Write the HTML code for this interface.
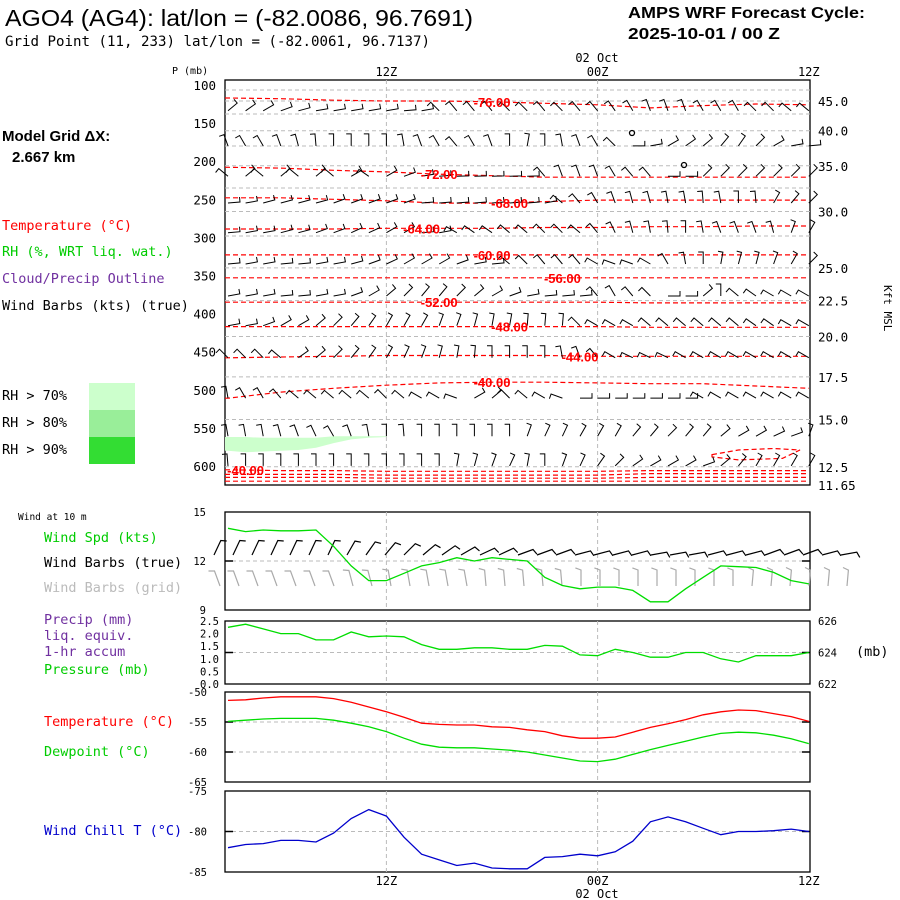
<!DOCTYPE html>
<html><head><meta charset="utf-8">
<style>
html,body{margin:0;padding:0;background:#fff;}
svg{display:block;}
text{font-family:"DejaVu Sans Mono","Liberation Mono",monospace;}
.t{font-family:"Liberation Sans",sans-serif;}
</style></head>
<body>
<svg id="chart" width="900" height="900" viewBox="0 0 900 900" xmlns="http://www.w3.org/2000/svg">
<rect x="0" y="0" width="900" height="900" fill="#fff"/>
<text class="t" x="5" y="26" font-size="23" textLength="468" lengthAdjust="spacingAndGlyphs">AGO4 (AG4):  lat/lon = (-82.0086, 96.7691)</text>
<text x="5" y="46" font-size="14" textLength="425" lengthAdjust="spacingAndGlyphs">Grid Point (11, 233) lat/lon = (-82.0061, 96.7137)</text>
<text class="t" x="628" y="18" font-size="16" font-weight="bold" textLength="237" lengthAdjust="spacingAndGlyphs">AMPS WRF Forecast Cycle:</text>
<text class="t" x="628" y="39" font-size="16" font-weight="bold" textLength="152" lengthAdjust="spacingAndGlyphs">2025-10-01 / 00  Z</text>

<text class="t" x="2" y="141" font-size="15" font-weight="bold">Model Grid ΔX:</text>
<text class="t" x="12" y="162" font-size="15" font-weight="bold">2.667 km</text>
<text x="2" y="230" font-size="13.5" fill="#ff0000">Temperature (°C)</text>
<text x="2" y="256" font-size="13.5" fill="#00cc00">RH (%, WRT liq. wat.)</text>
<text x="2" y="283" font-size="13.5" fill="#7030a0">Cloud/Precip Outline</text>
<text x="2" y="310" font-size="13.5" fill="#000">Wind Barbs (kts) (true)</text>
<rect x="89" y="383" width="46" height="27" fill="#ccffcc"/>
<rect x="89" y="410" width="46" height="27" fill="#99ee99"/>
<rect x="89" y="437" width="46" height="27" fill="#33dd33"/>
<text x="2" y="400" font-size="13.5">RH &gt; 70%</text>
<text x="2" y="427" font-size="13.5">RH &gt; 80%</text>
<text x="2" y="454" font-size="13.5">RH &gt; 90%</text>

<text x="18" y="520" font-size="9.5">Wind at 10 m</text>
<text x="44" y="542" font-size="13.5" fill="#00cc00">Wind Spd (kts)</text>
<text x="44" y="567" font-size="13.5" fill="#000">Wind Barbs (true)</text>
<text x="44" y="592" font-size="13.5" fill="#bbbbbb">Wind Barbs (grid)</text>
<text x="44" y="624" font-size="13.5" fill="#7030a0">Precip (mm)</text>
<text x="44" y="640" font-size="13.5" fill="#7030a0">liq. equiv.</text>
<text x="44" y="656" font-size="13.5" fill="#7030a0">1-hr accum</text>
<text x="44" y="674" font-size="13.5" fill="#00cc00">Pressure (mb)</text>
<text x="44" y="726" font-size="13.5" fill="#ff0000">Temperature (°C)</text>
<text x="44" y="756" font-size="13.5" fill="#00cc00">Dewpoint (°C)</text>
<text x="44" y="835" font-size="13.5" fill="#0000cc">Wind Chill T (°C)</text>

<text x="172" y="74" font-size="10">P (mb)</text>
<text x="597" y="62" font-size="12" text-anchor="middle">02 Oct</text>
<text x="597" y="898" font-size="12" text-anchor="middle">02 Oct</text>
<text x="856" y="656" font-size="13.5">(mb)</text>
<text x="884" y="285" font-size="11" transform="rotate(90 884 285)">Kft MSL</text>
<g id="g"></g>
</svg>
<script>
// ---- data ----
var hours = [0,1,2,3,4,5,6,7,8,9,10,11,12,13,14,15,16,17,18,19,20,21,22,23,24,25,26,27,28,29,30,31,32,33];
var timeTickLabels = ["12Z","00Z","12Z"];
var timeTickHours = [9,21,33];
var pressureTicks = [100,150,200,250,300,350,400,450,500,550,600];
var heightTickLabels = ["45.0","40.0","35.0","30.0","25.0","22.5","20.0","17.5","15.0","12.5","11.65"];
var heightTickPressure = [121,160,206,266,340,383,430,483,539,601,626];
var windSpd = [14.0,13.8,13.9,13.85,13.85,13.9,12.9,11.7,10.8,10.8,11.25,11.7,11.9,12.2,12.0,12.2,12.1,12.0,11.0,10.5,10.3,10.4,10.4,10.2,9.5,9.5,10.3,11.0,11.7,11.65,11.6,11.3,10.8,10.6];
var pressure = [625.6,625.8,625.5,625.2,625.2,624.8,624.8,625.3,625.0,625.05,625.0,624.5,624.2,624.2,624.3,624.3,624.2,624.2,624.45,624.4,623.85,623.8,624.2,624.0,623.7,623.7,624.0,624.0,623.6,623.4,623.8,623.8,623.8,624.0];
var precip = [0,0,0,0,0,0,0,0,0,0,0,0,0,0,0,0,0,0,0,0,0,0,0,0,0,0,0,0,0,0,0,0,0,0];
var temperature = [-51.4,-51.3,-51.0,-50.8,-50.8,-50.8,-51.1,-51.7,-52.5,-53.3,-54.2,-55.2,-55.4,-55.5,-55.5,-55.8,-55.9,-56.3,-56.6,-57.3,-57.7,-57.7,-57.5,-56.7,-55.9,-55.3,-54.6,-53.8,-53.3,-53.0,-53.1,-53.6,-54.1,-54.9];
var dewpoint = [-54.9,-54.7,-54.5,-54.4,-54.4,-54.4,-54.7,-55.2,-55.8,-56.6,-57.7,-58.7,-59.2,-59.3,-59.3,-59.5,-59.7,-60.0,-60.5,-61.0,-61.5,-61.6,-61.2,-60.4,-59.6,-58.9,-58.2,-57.5,-56.9,-56.7,-56.8,-57.2,-57.8,-58.6];
var windChill = [-82.0,-81.6,-81.5,-81.1,-81.1,-81.3,-80.2,-78.4,-77.3,-78.1,-80.7,-82.8,-83.5,-84.2,-83.9,-84.5,-84.6,-84.6,-83.2,-83.1,-82.8,-83.0,-82.5,-81.2,-78.8,-78.2,-78.8,-79.6,-80.4,-80.0,-80.0,-79.9,-79.7,-80.0];
var wind10Dir = [25,25,25,25,25,25,25,30,35,40,45,50,55,60,65,65,70,70,70,75,75,75,75,80,80,80,75,75,75,70,70,70,75,80];
var wind10GridDir = [-20,-20,-20,-20,-20,-20,-20,-15,-15,-10,-10,-10,-10,-10,-5,-5,-5,-5,-5,0,0,0,0,0,0,0,0,0,5,5,5,5,5,5];
// isotherms: pressure (mb) sampled every 3 h
var isoHours = [0,3,6,9,12,15,18,21,24,27,30,33];
var isoM76 = [117,118,120,121,121,122,124,126,130,127,125,126];
var isoM72 = [208,209,212,214,217,219,221,221,221,221,221,221];
var isoM68 = [248,248,250,252,255,255,253,251,251,251,251,251];
var isoM64 = [289,289,289,288,288,288,287,287,286,286,285,285];
var isoM60 = [323,323,323,323,323,323,323,323,323,323,323,323];
var isoM56 = [353,353,353,353,353,353,353,353,353,353,353,353];
var isoM52 = [385,385,385,385,385,385,385,385,386,386,386,386];
var isoM48 = [417,417,417,417,417,417,417,417,418,418,418,418];
var isoM44 = [458,457,456,455,455,455,455,456,456,456,456,456];
var isoM40a = [511,503,498,494,491,490,490,491,492,492,495,498];
var isoM40b = [605,606,606,607,607,607,607,607,606,606,606,606];
var isoM36 = [611,611,611,612,612,612,612,612,610,610,610,610];
var isoM32 = [615,615,615,616,616,616,616,616,615,615,615,615];
var isoM28 = [620,620,620,620,620,620,620,620,620,620,620,620];
var isotherms = [isoM76,isoM72,isoM68,isoM64,isoM60,isoM56,isoM52,isoM48,isoM44,isoM40a,isoM40b,isoM36,isoM32,isoM28];
var isoLabels = ["-76.00","-72.00","-68.00","-64.00","-60.00","-56.00","-52.00","-48.00","-44.00","-40.00","-40.00","","",""];
var isoLabelHour = [15,12,16,11,15,19,12,16,20,15,1,0,0,0];
// closed -40 contour (hours, pressure)
var loopHours = [27.5,29,31,32.5,31.5,29,27.5];
var loopPress = [585,579,577,579,590,592,588];
// RH>70% patch (hours, top/bottom pressure)
var rhHours = [0,1,2,3,4,5,6,7,8,9];
var rhTop = [562,562,563,563,563,563,561,561,561,561];
var rhBot = [580,582,581,580,579,576,570,565,563,562];
// upper-air barbs (shaft angle deg, 0=up)
var barbLevels = [126,172,212,247,286,327,369,408,450,503,553,592];
var barbDirs = [
[50,55,60,70,75,80,80,80,80,80,85,80,-45,-40,-40,-40,-45,-45,-40,-45,-40,-40,-35,-30,-20,-20,-20,-30,-30,-30,-45,-45,-50,-50],
[-20,-30,-30,-20,-15,-5,0,0,0,0,-10,-20,-30,-40,-30,-20,0,10,0,-10,-20,-30,-45,90,80,60,55,50,40,35,45,60,80,85],
[-50,50,-50,50,-50,50,-50,60,-55,60,70,80,85,88,88,88,88,88,-40,-20,-20,-20,-30,-40,-40,90,90,45,45,45,45,45,45,45],
[85,80,75,75,75,75,70,70,70,70,70,85,85,85,85,85,85,85,80,-50,-40,-30,-20,-15,-15,-10,-10,-5,-10,0,-5,30,40,45],
[85,80,80,75,75,70,70,65,65,60,60,85,80,-60,-55,-55,-50,-50,-45,-45,-50,-40,-25,-15,-10,-5,0,-10,-20,-20,-20,-15,20,30],
[85,80,80,85,85,80,80,75,70,65,60,60,60,70,80,85,-50,-45,-40,-40,-40,-60,-70,-70,-60,-30,-10,0,10,15,15,20,30,45],
[80,80,80,85,85,80,80,70,60,50,45,40,40,45,50,60,70,80,85,85,85,-40,-30,-40,-45,90,90,50,0,-50,-55,-60,-60,-60],
[80,80,70,60,60,50,45,40,35,30,30,30,20,20,15,10,10,5,5,5,-45,-60,-60,-60,-50,-50,-50,-50,-50,-50,-55,-55,-60,-60],
[-45,-45,-45,-50,55,50,45,40,35,30,25,20,15,10,5,0,0,0,0,-10,-20,-40,-60,-65,-65,-65,-60,-60,-60,-60,-60,-60,-60,-60],
[-10,-30,-30,-40,-50,-50,-50,-50,-50,-45,-50,-60,-60,-70,60,50,-45,-50,-60,-70,90,90,90,90,90,90,90,-60,-60,-60,-60,-60,-60,-60],
[-10,-10,-10,-15,-20,-25,-30,-20,-10,0,-5,0,0,0,0,0,0,20,25,25,30,30,30,40,40,45,40,40,50,60,60,65,70,20],
[-5,0,0,0,0,0,0,0,0,0,0,0,0,10,15,20,25,10,0,20,25,35,45,55,60,60,60,70,50,40,30,30,30,30]];

// ---- scales ----
var L = 225, R = 810;
function xS(h){ return 228 + h*17.6; }
function yP(p){ return 85 + (p-100)*0.762; }
function yWind(v){ return 610 - (v-9)*(98/6); }
function yPres(m){ return 684 - (m-622)*(63/4); }
function yPrecip(v){ return 684 - v*(63/2.5); }
function yTemp(t){ return 692 + (-50 - t)*6; }
function yChill(t){ return 791 + (-75 - t)*8.1; }

var NS = "http://www.w3.org/2000/svg";
var G = document.getElementById('g');
function mk(tag, attrs, parent){
  var e = document.createElementNS(NS, tag);
  for (var k in attrs) e.setAttribute(k, attrs[k]);
  (parent||G).appendChild(e);
  return e;
}
function txt(x,y,s,size,anchor,fill){
  var e = mk('text',{x:x,y:y,'font-size':size,'text-anchor':anchor||'start',fill:fill||'#000'});
  e.textContent = s;
  return e;
}
function lineOf(xs, ys){ var d=''; for (var i=0;i<xs.length;i++) d += (i?'L':'M')+xs[i].toFixed(1)+' '+ys[i].toFixed(1); return d; }

// panels
var panels = [[80,485,'upper-air-panel'],[512,610,'wind-panel'],[621,684,'precip-pressure-panel'],[692,782,'temperature-panel'],[791,872,'wind-chill-panel']];
panels.forEach(function(p){
  var r = mk('rect',{x:L,y:p[0],width:R-L,height:p[1]-p[0],fill:'none',stroke:'#000','stroke-width':1.3});
  
  
  timeTickHours.forEach(function(h,i){
    if (i==2) return;
    var v = mk('line',{x1:xS(h),x2:xS(h),y1:p[0],y2:p[1],stroke:'#bbb','stroke-dasharray':'4,3'});
    
    
  });
});
// upper horizontal gridlines
heightTickPressure.forEach(function(p){
  var y = yP(p);
  if (y>484) return;
  var l = mk('line',{x1:L,x2:R,y1:y,y2:y,stroke:'#bbb','stroke-dasharray':'4,3'});
  
  
});
[90,114,146,188,236].forEach(function(y){
  var l = mk('line',{x1:L,x2:R,y1:y,y2:y,stroke:'#bbb','stroke-dasharray':'4,3'});
  
  
});
// lower gridlines
[[yWind(12),'wind-12-gridline'],[yPres(624),'pressure-624-gridline'],[yTemp(-55),'temp-55-gridline'],[yTemp(-60),'temp-60-gridline'],[yChill(-80),'chill-80-gridline']].forEach(function(a){
  var l = mk('line',{x1:L,x2:R,y1:a[0],y2:a[0],stroke:'#bbb','stroke-dasharray':'4,3'});
  
  
  mk('line',{x1:L,x2:L+8,y1:a[0],y2:a[0],stroke:'#000','stroke-width':1.5});
  mk('line',{x1:R-8,x2:R,y1:a[0],y2:a[0],stroke:'#000','stroke-width':1.5});
});

// time ticks
timeTickHours.forEach(function(h,i){
  var a = txt(xS(h),76,timeTickLabels[i],12,'middle');
  
  
  var b = txt(xS(h),885,timeTickLabels[i],12,'middle');
  
  
});
// pressure ticks
pressureTicks.forEach(function(p){
  var t = txt(216,yP(p)+5,String(p),12.5,'end');
  
  
});
heightTickLabels.forEach(function(s,i){
  var y = Math.min(yP(heightTickPressure[i]), 485);
  var t = txt(818,y+5,s,12.5,'start');
  
  
});
// lower axis labels
[[15,yWind(15)],[12,yWind(12)],[9,yWind(9)]].forEach(function(a){
  var t = txt(206,a[1]+4,String(a[0]),10.5,'end');
  
  
});
[2.5,2.0,1.5,1.0,0.5,0.0].forEach(function(v){
  var t = txt(219,yPrecip(v)+4,v.toFixed(1),10.5,'end');
  
  
});
[626,624,622].forEach(function(v){
  var t = txt(818,yPres(v)+4,String(v),10.5,'start');
  
  
});
[-50,-55,-60,-65].forEach(function(v){
  var t = txt(207,yTemp(v)+4,String(v),10.5,'end');
  
  
});
[-75,-80,-85].forEach(function(v){
  var t = txt(207,yChill(v)+4,String(v),10.5,'end');
  
  
});

// RH patch
var rhx = rhHours.map(xS), rhtop = rhTop.map(yP), rhbot = rhBot.map(yP);
var pd = 'M'+L+' '+rhtop[0]; for (var i=0;i<rhx.length;i++) pd += 'L'+rhx[i]+' '+rhtop[i];
for (var i=rhx.length-1;i>=0;i--) pd += 'L'+rhx[i]+' '+rhbot[i];
pd += 'L'+L+' '+rhbot[0]+'Z';
var rh = mk('path',{d:pd,fill:'#ccffcc',stroke:'none'});



// isotherms
var isx = isoHours.map(xS);
isotherms.forEach(function(arr,k){
  var ys = arr.map(yP);
  var xs = [L].concat(isx); ys = [ys[0]].concat(ys);
  var p = mk('path',{d:lineOf(xs,ys),fill:'none',stroke:'#ff0000','stroke-width':1.2,'stroke-dasharray':'5,3'});
  
  
});
var lp = mk('path',{d:lineOf(loopHours.map(xS),loopPress.map(yP))+'Z',fill:'none',stroke:'#ff0000','stroke-width':1.2,'stroke-dasharray':'5,3'});



// barbs
function barb(x,y,a,len,tickA,tickLen,col,w){
  var r = a*Math.PI/180, tr = tickA*Math.PI/180;
  var tx = x+len*Math.sin(r), ty = y-len*Math.cos(r);
  var d = 'M'+x.toFixed(1)+' '+y.toFixed(1)+'L'+tx.toFixed(1)+' '+ty.toFixed(1)+'L'+(tx+tickLen*Math.sin(tr)).toFixed(1)+' '+(ty-tickLen*Math.cos(tr)).toFixed(1);
  return mk('path',{d:d,fill:'none',stroke:col,'stroke-width':w||1});
}
barbLevels.forEach(function(p,k){
  var yc = yP(p);
  barbDirs[k].forEach(function(a,i){
    var b = barb(xS(hours[i]), yc+6, a, 12, a-90, 5, '#000', 1);
    
    
  });
});
[[632,133],[684,165]].forEach(function(c){
  var e = mk('circle',{cx:c[0],cy:c[1],r:2.5,fill:'none',stroke:'#000','stroke-width':1.3});
  
  
});
// 10m barbs
wind10Dir.forEach(function(a,i){
  var x = 214 + i*19;
  var b = barb(x, 555, a, 16, a+70, 6, '#000', 1.2);
  
  
});
wind10GridDir.forEach(function(a,i){
  var x = 214 + i*19;
  var b = barb(x+6, 586, a, 16, a-70, 6, '#aaa', 1.2);
  
  
});

// isotherm labels (drawn on top)
isoLabels.forEach(function(s,k){
  if (!s) return;
  var h = isoLabelHour[k];
  var j = Math.round(h/3); if (j>11) j=11;
  var t = txt(xS(h), yP(isotherms[k][j])+5, s, 13, 'middle', '#ff0000');
  t.setAttribute('font-weight','bold');
  t.setAttribute('class','t');
  
  
});

// series lines
var hx = hours.map(xS);
function series(vals, f, col, name){
  var p = mk('path',{d:lineOf(hx, vals.map(f)),fill:'none',stroke:col,'stroke-width':1.3});
  
  
}
series(windSpd, yWind, '#00dd00', 'wind-speed-line');
series(pressure, yPres, '#00dd00', 'pressure-line');
series(temperature, yTemp, '#ff0000', 'temperature-line');
series(dewpoint, yTemp, '#00dd00', 'dewpoint-line');
series(windChill, yChill, '#0000cc', 'wind-chill-line');
</script>
</body></html>
